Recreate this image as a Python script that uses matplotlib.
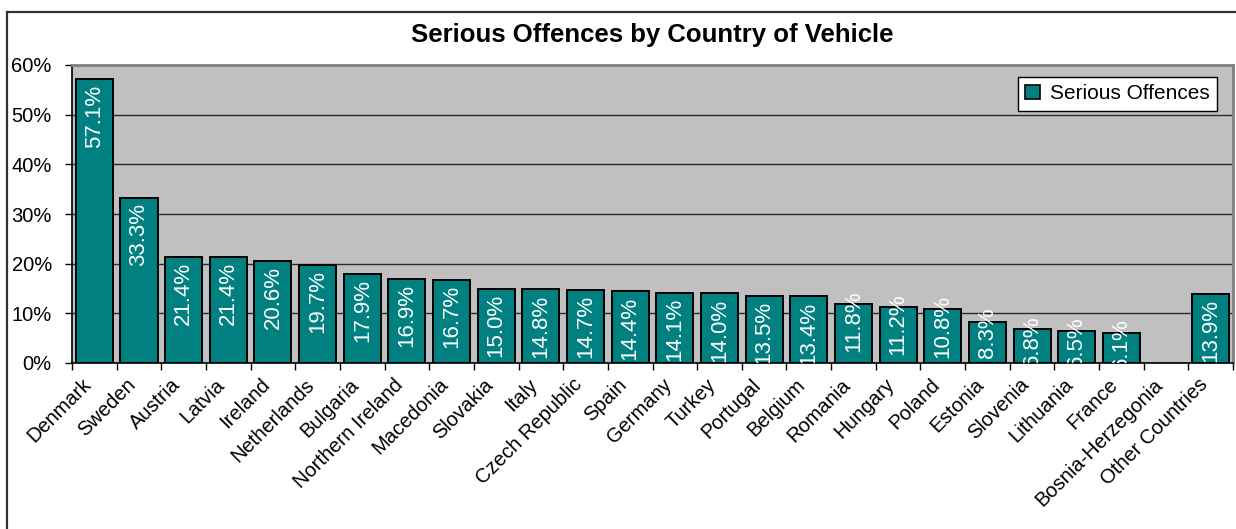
import numpy as np
import matplotlib
matplotlib.use("Agg")
import matplotlib.pyplot as plt
from matplotlib.patches import Patch
from matplotlib.lines import Line2D
from matplotlib.transforms import offset_copy

countries = ["Denmark", "Sweden", "Austria", "Latvia", "Ireland", "Netherlands",
             "Bulgaria", "Northern Ireland", "Macedonia", "Slovakia", "Italy",
             "Czech Republic", "Spain", "Germany", "Turkey", "Portugal", "Belgium",
             "Romania", "Hungary", "Poland", "Estonia", "Slovenia", "Lithuania",
             "France", "Bosnia-Herzegonia", "Other Countries"]
serious_pct = [57.1, 33.3, 21.4, 21.4, 20.6, 19.7, 17.9, 16.9, 16.7, 15.0, 14.8,
               14.7, 14.4, 14.1, 14.0, 13.5, 13.4, 11.8, 11.2, 10.8, 8.3, 6.8,
               6.5, 6.1, np.nan, 13.9]
y_ticks = [0, 10, 20, 30, 40, 50, 60]
y_tick_labels = ["0%", "10%", "20%", "30%", "40%", "50%", "60%"]

TEAL = "#008080"
PLOT_BG = "#C0C0C0"
FONT = "Liberation Sans"
FS = 14.5
INSIDE_MIN = 13.0  # shorter bars get their label pushed above the bar top

W, H = 1236, 529
fig = plt.figure(figsize=(W / 100, H / 100), dpi=100)
fig.patch.set_facecolor("white")

# outer chart frame (left and top edges)
fig.add_artist(Line2D([6.5 / W, 6.5 / W], [0, 1 - 11.5 / H], transform=fig.transFigure,
                      color="#333333", lw=1.6))
fig.add_artist(Line2D([6.5 / W, 1], [1 - 11.5 / H, 1 - 11.5 / H], transform=fig.transFigure,
                      color="#333333", lw=1.6))

ax = fig.add_axes([72 / W, 1 - 363 / H, (1233 - 72) / W, (363 - 65) / H])
ax.set_facecolor(PLOT_BG)

x = np.arange(len(countries))
ax.bar(x, serious_pct, width=0.83, color=TEAL, edgecolor="black", linewidth=1.4, zorder=3)

ax.set_xlim(-0.5, len(countries) - 0.5)
ax.set_ylim(0, 60)
ax.set_yticks(y_ticks)
ax.set_yticklabels(y_tick_labels, fontsize=FS, family=FONT)
ax.yaxis.grid(True, color="#2a2a2a", lw=1.0, zorder=1)
ax.set_axisbelow(True)

# category boundaries carry the ticks, labels sit under the bar centres
ax.set_xticks(np.arange(-0.5, len(countries), 1.0))
ax.set_xticklabels([])
ax.tick_params(axis="x", which="major", direction="out", length=5, width=1, color="black")
ax.tick_params(axis="y", direction="out", length=5, width=1, color="black", pad=9.5)

lab_tr = offset_copy(ax.transData, fig=fig, x=-13, y=-12, units="dots")
for i, name in enumerate(countries):
    ax.text(i, 0, name, transform=lab_tr, rotation=45, rotation_mode="anchor",
            ha="right", va="top", fontsize=FS, family=FONT, clip_on=False)

for side in ["left", "bottom"]:
    ax.spines[side].set_color("black")
    ax.spines[side].set_linewidth(1.2)
for side in ["top", "right"]:
    ax.spines[side].set_color("#808080")
    ax.spines[side].set_linewidth(2.0)

# value labels, rotated inside the bars
in_tr = offset_copy(ax.transData, fig=fig, y=-5, units="dots")
out_tr = offset_copy(ax.transData, fig=fig, y=14, units="dots")
for i, v in enumerate(serious_pct):
    if np.isnan(v):
        continue
    tr = in_tr if v >= INSIDE_MIN else out_tr
    ax.text(i, v, f"{v:.1f}%", transform=tr, rotation=90, ha="center", va="top",
            color="white", fontsize=FS + 1.5, family=FONT, zorder=4, clip_on=True)

fig.text((72 + 1233) / 2 / W, 1 - 35 / H, "Serious Offences by Country of Vehicle",
         ha="center", va="center", fontsize=18.5, fontweight="bold", family=FONT)

handle = Patch(facecolor=TEAL, edgecolor="black", linewidth=1.2)
leg = ax.legend([handle], ["Serious Offences"], loc="upper right",
                bbox_to_anchor=((1217 - 72) / 1161, (363 - 77) / 298),
                borderaxespad=0, frameon=True, fancybox=False, framealpha=1,
                edgecolor="black", handlelength=0.7, handleheight=0.7,
                handletextpad=0.5, borderpad=0.35,
                prop={"family": FONT, "size": FS + 0.5})
leg.get_frame().set_linewidth(1.0)
leg.set_zorder(5)

fig.savefig("out.png", dpi=100)
